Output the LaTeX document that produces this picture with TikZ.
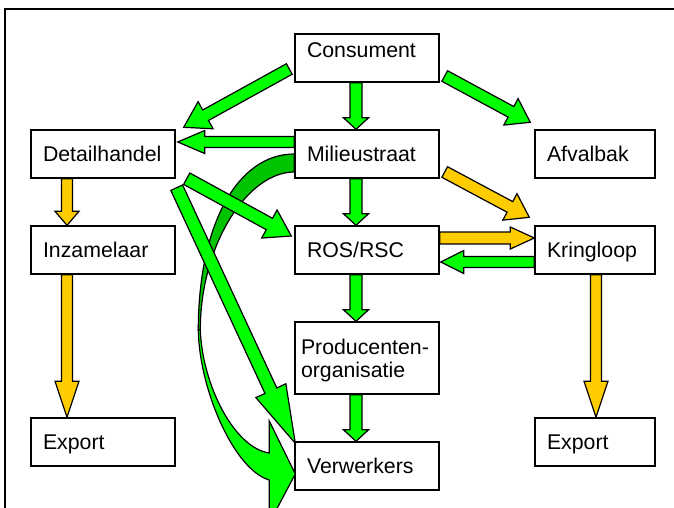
\documentclass[tikz,border=0pt]{standalone}
\usepackage{fontspec}
\setmainfont{Liberation Sans}
\usetikzlibrary{calc}
\definecolor{flowgreen}{HTML}{00FF00}
\definecolor{flowgold}{HTML}{FFCC00}
\definecolor{backgreen}{HTML}{00C400}
\newcommand{\boxfont}{\fontsize{21.3pt}{23.3pt}\selectfont}
% fat arrow: colour, from, to, half shaft, half head, head length
\newcommand{\fatarrow}[6]{%
  \coordinate (fa-s) at (#2);
  \coordinate (fa-t) at (#3);
  \coordinate (fa-b) at ($(fa-t)!#6pt!(fa-s)$);
  \filldraw[arrowline,fill=#1] ($(fa-s)!#4pt!90:(fa-t)$) -- ($(fa-b)!#4pt!90:(fa-t)$) -- ($(fa-b)!#5pt!90:(fa-t)$) -- (fa-t) -- ($(fa-b)!#5pt!-90:(fa-t)$) -- ($(fa-b)!#4pt!-90:(fa-t)$) -- ($(fa-s)!#4pt!-90:(fa-t)$) -- cycle;}
\tikzset{
  flowbox/.style={draw,line width=1.4pt,fill=white,minimum height=48pt,text width=120pt,inner xsep=12pt,inner ysep=0pt,align=left,text height=15.3pt,text depth=0pt,font=\boxfont},
  sidebox/.style={flowbox,text width=96pt},
  arrowline/.style={draw=black,line width=1.2pt,line join=miter,miter limit=20},
}
\begin{document}
\begin{tikzpicture}[x=1pt,y=-1pt]
  \useasboundingbox (0,0) rectangle (674,508);
  \clip (0,0) rectangle (674,508);
  \draw[line width=2pt] (5,520) -- (5,9) -- (690,9);
  % boxes
  \node[flowbox,text depth=15.3pt] (cons) at (367,58) {Consument};
  \node[flowbox] (detail) at (103,154) {Detailhandel};
  \node[flowbox] (milieu) at (367,154) {Milieustraat};
  \node[sidebox] (afval) at (595,154) {Afvalbak};
  \node[flowbox] (inzam) at (103,250) {Inzamelaar};
  \node[flowbox] (ros) at (367,250) {ROS/RSC};
  \node[sidebox] (kring) at (595,250) {Kringloop};
  \node[flowbox,minimum height=72pt,text width=132pt,inner xsep=6pt,text depth=23.3pt] (prod) at (367,358) {Producenten-\\organisatie};
  \node[flowbox] (exportL) at (103,442) {Export};
  \node[sidebox] (exportR) at (595,442) {Export};
  \node[flowbox] (verw) at (367,466) {Verwerkers};
  % curved arrow Milieustraat -> Verwerkers
  \coordinate (bend) at ($(milieu.west)+(-96,176)$);
  \filldraw[arrowline,fill=backgreen] (milieu.west) .. controls +(-57,0) and +(0,-105) .. (bend) -- ++(2,0) .. controls +(0,-85) and +(-47,0) .. ($(milieu.west)+(0,18)$) -- cycle;
  \filldraw[arrowline,fill=flowgreen] (bend) .. controls +(1,60) and +(-35,-10) .. ($(verw.west)+(-25,14)$) -- ++(0,43) -- ($(verw.west)+(1,8)$) -- ($(verw.west)+(-25,-45)$) -- ++(0,32) .. controls +(-35,-5) and +(2,55) .. ($(bend)+(2,0)$) -- cycle;
  % straight arrows
  \foreach \a/\b in {cons/milieu,milieu/ros,ros/prod,prod/verw}
    \fatarrow{flowgreen}{$(\a.south)+(-11,0)$}{$(\b.north)+(-11,0)$}{6}{12.5}{11.5};
  \fatarrow{flowgreen}{$(milieu.west)+(0,-12)$}{$(detail.east)+(2,-12)$}{5.5}{11.5}{27}
  \fatarrow{flowgold}{$(ros.east)+(0,-12)$}{$(kring.west)+(0,-12)$}{6}{11}{24}
  \fatarrow{flowgreen}{$(kring.west)+(0,12)$}{$(ros.east)+(1,12)$}{5.5}{11.5}{23}
  \fatarrow{flowgold}{$(detail.south)+(-36,0)$}{$(inzam.north)+(-36,0)$}{5.5}{12}{14}
  \fatarrow{flowgold}{$(inzam.south)+(-36,0)$}{$(exportL.north)+(-36,0)$}{5.5}{12}{36}
  \fatarrow{flowgold}{$(kring.south)+(1,0)$}{$(exportR.north)+(1,0)$}{5.5}{12}{36}
  \fatarrow{flowgreen}{$(cons.west)+(-5,11)$}{$(detail.north east)+(8,-2)$}{6}{15.5}{25}
  \fatarrow{flowgreen}{$(cons.east)+(5,18)$}{$(afval.north west)+(-4,-7)$}{6}{15}{22}
  \fatarrow{flowgold}{$(milieu.east)+(5,18)$}{$(kring.north west)+(-5,-8)$}{6}{15}{22}
  \fatarrow{flowgreen}{$(detail.south east)+(1,9)$}{$(verw.north west)+(1,2)$}{6.5}{16.5}{58}
  \fatarrow{flowgreen}{$(detail.south east)+(11,0)$}{$(ros.west)+(-3,-14)$}{6.5}{16}{25}
\end{tikzpicture}
\end{document}
